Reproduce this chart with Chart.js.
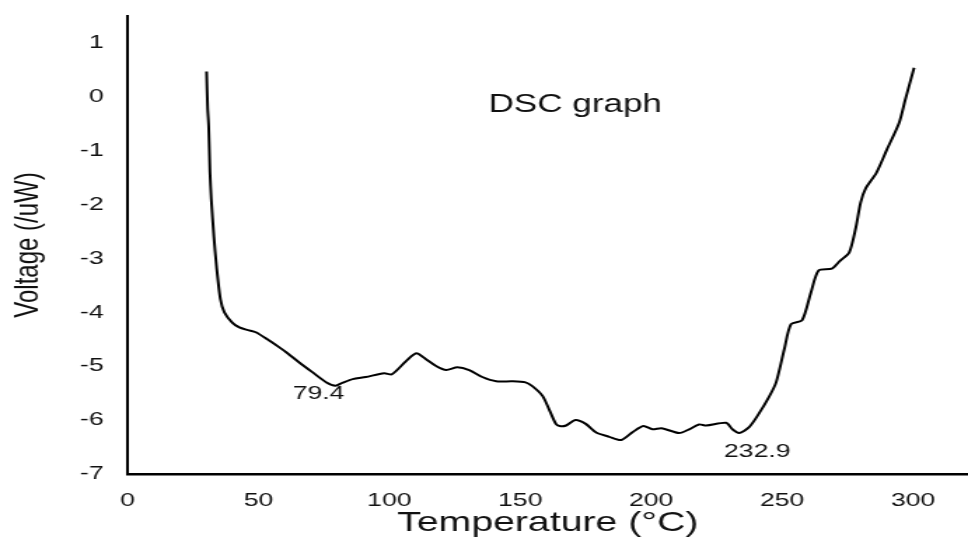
<!DOCTYPE html>
<html>
<head>
<meta charset="utf-8">
<title>DSC graph</title>
<script src="https://cdn.jsdelivr.net/npm/chart.js@4.4.0/dist/chart.umd.min.js"></script>
<style>
  html, body { margin: 0; padding: 0; background: #fff; overflow: hidden; }
  /* la figura original está estirada en horizontal: la dibujamos a 691px y la estiramos */
  #wrap { width: 691px; height: 548px; transform: scaleX(1.4009); transform-origin: 0 0; }
</style>
</head>
<body>
<div id="wrap"><canvas id="dsc" width="691" height="548"></canvas></div>
<script>
// -------- datos --------------------------------
const temps = [
  30.2, 30.6, 31.0, 31.5, 32, 33, 34, 35.5, 37, 40, 42.7, 46, 49, 53.4, 58, 60.6,
  65.6, 70.6, 76, 79.4, 82, 86, 91, 98, 101, 106.5, 110.3, 114, 118, 121.7, 126,
  130.5, 135.5, 140.8, 147, 152, 154.6, 158.5, 161, 163.6, 165, 167.5, 171, 175,
  179, 184, 188.5, 193, 197, 200.5, 204, 210.7, 214.5, 218.3, 221, 228.6, 231,
  233.6, 237.4, 241, 245, 247.7, 250.8, 253.4, 257.6, 261, 264, 269, 272, 275.6,
  278, 280, 282, 286, 290, 294.7, 297, 300.4
];
const voltage = [
  0.47, -0.2, -0.54, -1.4, -1.9, -2.6, -3.15, -3.76, -4.0, -4.19, -4.28, -4.33,
  -4.37, -4.5, -4.65, -4.74, -4.93, -5.11, -5.3, -5.36, -5.31, -5.24, -5.2, -5.13,
  -5.15, -4.9, -4.76, -4.87, -5.0, -5.07, -5.02, -5.07, -5.2, -5.28, -5.28, -5.3,
  -5.37, -5.55, -5.8, -6.07, -6.11, -6.1, -6.0, -6.07, -6.23, -6.31, -6.37, -6.22,
  -6.11, -6.17, -6.15, -6.24, -6.17, -6.08, -6.1, -6.05, -6.17, -6.24, -6.13,
  -5.89, -5.57, -5.3, -4.69, -4.22, -4.15, -3.63, -3.22, -3.19, -3.05, -2.89,
  -2.46, -1.96, -1.69, -1.41, -0.98, -0.48, -0.06, 0.54
];
const xTicks = [0, 50, 100, 150, 200, 250, 300];
const yTicks = [-7, -6, -5, -4, -3, -2, -1, 0, 1];

// textos anotados sobre la curva (en coordenadas de datos)
const notes = [
  { text: "DSC graph", x: 171, y: -0.15, size: 25 },
  { text: "79.4", x: 73, y: -5.52, size: 19 },
  { text: "232.9", x: 240.5, y: -6.58, size: 19 }
];

const FONT = "'Liberation Sans', Arial, sans-serif";
const INK = "#111";

// -------- plugin de anotaciones ----------
const notesPlugin = {
  id: "notes",
  afterDatasetsDraw(chart) {
    const { ctx, scales: { x, y } } = chart;
    ctx.save();
    ctx.fillStyle = INK;
    ctx.textAlign = "center";
    ctx.textBaseline = "middle";
    notes.forEach(n => {
      ctx.font = `${n.size}px ${FONT}`;
      ctx.fillText(n.text, x.getPixelForValue(n.x), y.getPixelForValue(n.y));
    });
    ctx.restore();
  }
};

const points = temps.map((t, i) => ({ x: t, y: voltage[i] }));

new Chart(document.getElementById("dsc"), {
  type: "line",
  data: {
    datasets: [{
      data: points,
      borderColor: "#000",
      borderWidth: 2,
      pointRadius: 0,
      tension: 0.25,
      fill: false
    }]
  },
  options: {
    responsive: false,
    animation: false,
    devicePixelRatio: 1,
    layout: { padding: { top: 16, right: 0, left: 0, bottom: 0 } },
    plugins: { legend: { display: false }, tooltip: { enabled: false } },
    scales: {
      x: {
        type: "linear",
        min: 0, max: 321,
        afterBuildTicks: (s) => { s.ticks = xTicks.map(v => ({ value: v })); },
        afterFit: (s) => { s.height = 74; s.paddingLeft = 0; s.paddingRight = 0; },
        grid: { display: false, drawTicks: false },
        border: { display: true, color: "#000", width: 2.5 },
        ticks: { color: INK, padding: 15, font: { family: FONT, size: 19 } },
        title: {
          display: true, text: "Temperature (°C)", color: INK,
          font: { family: FONT, size: 28 }, padding: { top: 0, bottom: 8 }
        }
      },
      y: {
        min: -7, max: 1.5,
        afterBuildTicks: (s) => { s.ticks = yTicks.map(v => ({ value: v })); },
        afterFit: (s) => { s.width = 91; s.paddingTop = 0; s.paddingBottom = 0; },
        grid: { display: false, drawTicks: false },
        border: { display: true, color: "#000", width: 2 },
        ticks: { color: INK, padding: 17, font: { family: FONT, size: 19 } },
        title: {
          display: true, text: "Voltage (/uW)", color: INK,
          font: { family: FONT, size: 24 }, padding: { top: 6, bottom: 0 }
        }
      }
    }
  },
  plugins: [notesPlugin]
});
</script>
</body>
</html>
